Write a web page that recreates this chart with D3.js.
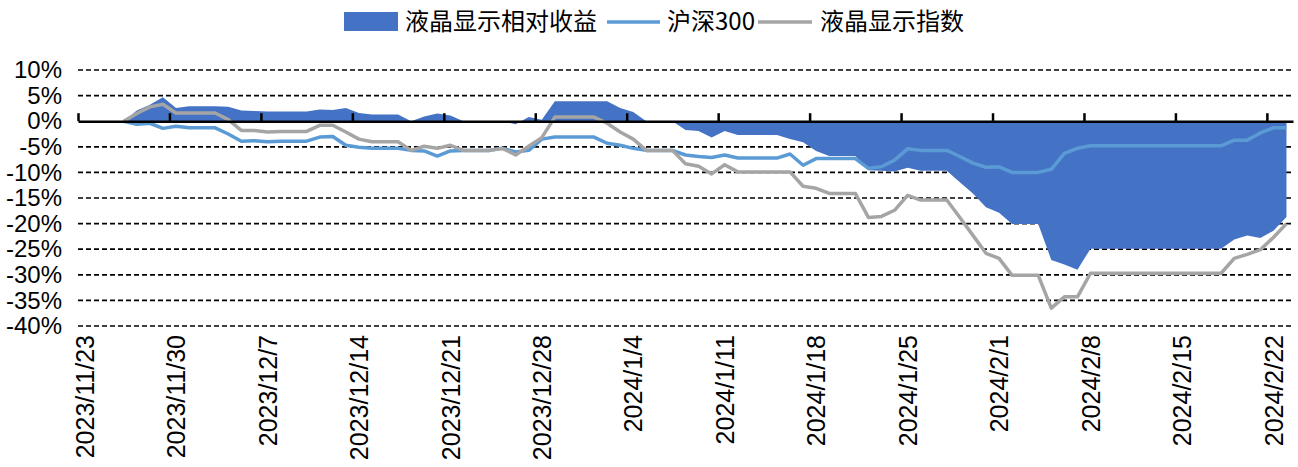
<!DOCTYPE html>
<html>
<head>
<meta charset="utf-8">
<script src="https://cdn.jsdelivr.net/npm/d3@7"></script>
<style>
  body { margin: 0; background: #fff; }
  text { font-family: "Liberation Sans", Arial, sans-serif; }
  .cjk { font-family: "Noto Sans CJK SC", sans-serif; }
</style>
</head>
<body>
<svg id="chart" width="1298" height="467"></svg>
<script>
// daily series, 2023/11/26 .. 2024/2/23 (weekends / holidays carry the last close)
var startDate = new Date(2023, 10, 26),
    endDate = new Date(2024, 1, 24);
var dates = d3.timeDay.range(startDate, endDate);

// 沪深300 cumulative return, %
var hs300 = [
  0, -0.6, -0.4, -1.4, -1.0, -1.3, -1.3, -1.3,
  -2.5, -3.9, -3.8, -4.0, -3.9, -3.9, -3.9,
  -3.1, -3.0, -4.7, -5.1, -5.3, -5.3, -5.3,
  -5.7, -5.8, -6.8, -5.8, -5.7, -5.7, -5.7,
  -5.3, -6.0, -5.7, -3.5, -3.1, -3.1, -3.1,
  -3.1, -4.3, -4.7, -5.3, -5.7, -5.7, -5.7,
  -6.6, -6.9, -7.1, -6.6, -7.2, -7.2, -7.2,
  -7.2, -6.4, -8.6, -7.3, -7.3, -7.3, -7.3,
  -9.2, -8.9, -7.6, -5.4, -5.7, -5.7, -5.7,
  -6.9, -8.2, -9.0, -8.9, -10.0, -10.0, -10.0,
  -9.4, -6.3, -5.3, -4.8,
  -4.8, -4.8, -4.8, -4.8, -4.8, -4.8, -4.8, -4.8, -4.8, -4.8,
  -3.7, -3.7, -2.3, -1.3, -1.3
];

// 液晶显示指数 cumulative return, %
var lcdIndex = [
  0, 1.5, 2.8, 3.3, 1.6, 1.6, 1.6, 1.6,
  0.3, -1.8, -1.8, -2.1, -2.0, -2.0, -2.0,
  -0.8, -0.8, -2.1, -3.5, -4.0, -4.0, -4.0,
  -5.7, -4.9, -5.3, -4.7, -5.7, -5.7, -5.7,
  -5.3, -6.6, -4.9, -3.2, 0.8, 0.8, 0.8,
  0.8, -0.4, -2.1, -3.5, -5.7, -5.7, -5.7,
  -8.3, -8.8, -10.3, -8.5, -9.9, -9.9, -9.9,
  -9.9, -9.9, -12.7, -13.1, -14.1, -14.1, -14.1,
  -18.8, -18.6, -17.4, -14.5, -15.4, -15.4, -15.4,
  -18.8, -22.3, -25.8, -26.8, -30.1, -30.1, -30.1,
  -36.5, -34.3, -34.3, -29.7,
  -29.7, -29.7, -29.7, -29.7, -29.7, -29.7, -29.7, -29.7, -29.7, -29.7,
  -26.8, -26.0, -25.1, -22.7, -20.0
];

var yTicks = [10, 5, 0, -5, -10, -15, -20, -25, -30, -35, -40];
var xTicks = d3.timeDay.range(new Date(2023, 10, 23), new Date(2024, 1, 23), 7);
var legendNames = ["液晶显示相对收益", "沪深300", "液晶显示指数"];

var svg = d3.select("#chart");

var x = d3.scaleTime()
  .domain([new Date(2023, 10, 23), endDate])
  .range([78, 1293]);
var y = d3.scaleLinear()
  .domain([-40, 10])
  .range([326, 70]);

// points sit in the middle of each day
function xPos(d) { return x(d3.timeHour.offset(d, 12)); }

var rows = dates.map(function(d, i) {
  return { date: d, hs: hs300[i], idx: lcdIndex[i], rel: lcdIndex[i] - hs300[i] };
});

// dashed gridlines
svg.append("g")
  .selectAll("line")
  .data(yTicks.filter(function(d) { return d !== 0; }))
  .enter().append("line")
  .attr("x1", 78).attr("x2", 1293)
  .attr("y1", function(d) { return y(d); })
  .attr("y2", function(d) { return y(d); })
  .attr("stroke", "#000")
  .attr("stroke-width", 1.7)
  .attr("stroke-dasharray", "5,3");

// y labels
var yAxis = svg.append("g")
  .attr("transform", "translate(64,0)")
  .call(d3.axisLeft(y).tickValues(yTicks).tickSize(0).tickPadding(2)
    .tickFormat(function(d) { return d + "%"; }));
yAxis.select(".domain").remove();
yAxis.selectAll("text")
  .attr("font-family", "Liberation Sans, Arial, sans-serif")
  .attr("font-size", 24)
  .attr("fill", "#000");

// relative return area
svg.append("path")
  .datum(rows)
  .attr("fill", "#4472C4")
  .attr("d", d3.area()
    .x(function(d) { return xPos(d.date); })
    .y0(y(0))
    .y1(function(d) { return y(d.rel); }));

// lines
svg.append("path")
  .datum(rows)
  .attr("fill", "none")
  .attr("stroke", "#5B9BD5")
  .attr("stroke-width", 3.5)
  .attr("stroke-linejoin", "round")
  .attr("d", d3.line()
    .x(function(d) { return xPos(d.date); })
    .y(function(d) { return y(d.hs); }));

svg.append("path")
  .datum(rows)
  .attr("fill", "none")
  .attr("stroke", "#A5A5A5")
  .attr("stroke-width", 3.5)
  .attr("stroke-linejoin", "round")
  .attr("d", d3.line()
    .x(function(d) { return xPos(d.date); })
    .y(function(d) { return y(d.idx); }));

// zero axis with upward ticks
var xAxis = svg.append("g")
  .attr("transform", "translate(0," + y(0) + ")")
  .call(d3.axisTop(x).tickValues(xTicks).tickSize(8).tickSizeOuter(0).tickFormat(""));
xAxis.select(".domain").attr("stroke", "#000").attr("stroke-width", 2.5);
xAxis.selectAll(".tick line").attr("stroke", "#000").attr("stroke-width", 2.5);

// rotated date labels
var fmt = d3.timeFormat("%Y/%-m/%-d");
svg.append("g")
  .selectAll("text")
  .data(xTicks)
  .enter().append("text")
  .attr("transform", function(d) { return "translate(" + (x(d) + 7) + ",335) rotate(-90)"; })
  .attr("text-anchor", "end")
  .attr("dy", "0.35em")
  .attr("font-size", 25)
  .attr("fill", "#000")
  .text(fmt);

// legend
var legend = svg.append("g");
legend.append("rect")
  .attr("x", 344).attr("y", 12).attr("width", 54).attr("height", 19)
  .attr("fill", "#4472C4");
legend.append("text").attr("class", "cjk")
  .attr("x", 405).attr("y", 22).attr("dy", "0.35em")
  .attr("font-size", 24).text(legendNames[0]);
legend.append("line")
  .attr("x1", 607).attr("x2", 660).attr("y1", 22).attr("y2", 22)
  .attr("stroke", "#5B9BD5").attr("stroke-width", 3.5);
legend.append("text").attr("class", "cjk")
  .attr("x", 667).attr("y", 22).attr("dy", "0.35em")
  .attr("font-size", 24).text(legendNames[1]);
legend.append("line")
  .attr("x1", 758).attr("x2", 812).attr("y1", 22).attr("y2", 22)
  .attr("stroke", "#A5A5A5").attr("stroke-width", 3.5);
legend.append("text").attr("class", "cjk")
  .attr("x", 820).attr("y", 22).attr("dy", "0.35em")
  .attr("font-size", 24).text(legendNames[2]);
</script>
</body>
</html>
